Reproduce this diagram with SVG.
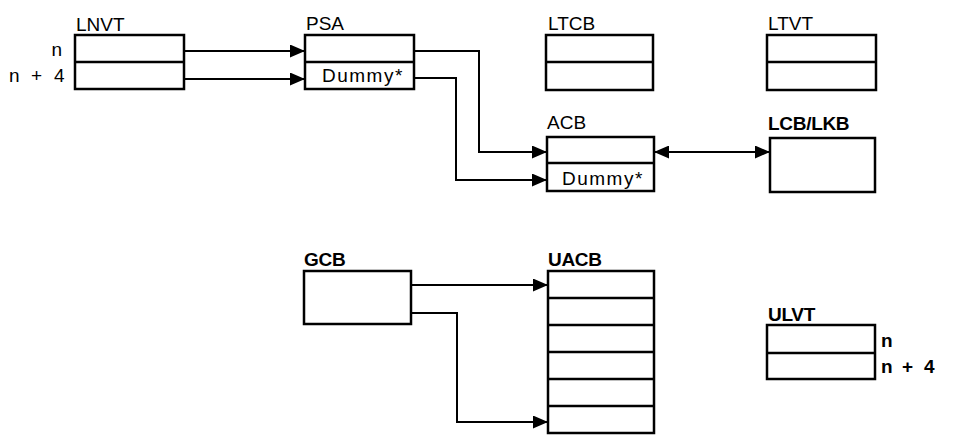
<svg xmlns="http://www.w3.org/2000/svg" width="956" height="444" viewBox="0 0 956 444">
<style>
.box{fill:#fff;stroke:#000;stroke-width:2.5}
.div{stroke:#000;stroke-width:2.5}
.t{font-family:"Liberation Sans",Arial,sans-serif;font-size:19px;fill:#000}
.d{font-family:"Liberation Sans",Arial,sans-serif;font-size:19px;fill:#000;letter-spacing:1.5px}
.b{font-family:"Liberation Sans",Arial,sans-serif;font-size:19px;font-weight:bold;fill:#000;letter-spacing:-0.3px}
.c{fill:none;stroke:#000;stroke-width:2}
</style>
<defs>
<marker id="ah" markerWidth="15" markerHeight="13" refX="15" refY="6.5" orient="auto" markerUnits="userSpaceOnUse">
<path d="M0,0 L15,6.5 L0,13 Z" fill="#000"/>
</marker>
<marker id="as" markerWidth="15" markerHeight="13" refX="15" refY="6.5" orient="auto-start-reverse" markerUnits="userSpaceOnUse">
<path d="M0,0 L15,6.5 L0,13 Z" fill="#000"/>
</marker>
</defs>
<g id="LNVT">
<text class="t" x="76" y="31">LNVT</text>
<rect class="box" x="75" y="35" width="109" height="54"/>
<line class="div" x1="75" y1="62" x2="184" y2="62"/>
<text class="t" x="62" y="56" text-anchor="end">n</text>
<text class="t" y="82"><tspan x="9">n</tspan><tspan x="31">+</tspan><tspan x="54">4</tspan></text>
</g>
<g id="PSA">
<text class="t" x="306" y="30">PSA</text>
<rect class="box" x="305" y="35" width="109" height="54"/>
<line class="div" x1="305" y1="62" x2="414" y2="62"/>
<text class="d" x="322" y="82">Dummy*</text>
</g>
<g id="LTCB">
<text class="t" x="548" y="30">LTCB</text>
<rect class="box" x="546" y="35" width="107" height="55"/>
<line class="div" x1="546" y1="62" x2="653" y2="62"/>
</g>
<g id="LTVT">
<text class="t" x="768" y="30">LTVT</text>
<rect class="box" x="767" y="35" width="109" height="55"/>
<line class="div" x1="767" y1="62" x2="876" y2="62"/>
</g>
<g id="ACB">
<text class="t" x="547" y="129">ACB</text>
<rect class="box" x="547" y="137" width="107" height="54"/>
<line class="div" x1="547" y1="163" x2="654" y2="163"/>
<text class="d" x="562" y="185">Dummy*</text>
</g>
<g id="LCB_LKB">
<text class="b" x="768" y="130">LCB/LKB</text>
<rect class="box" x="770" y="138" width="105" height="54"/>
</g>
<g id="GCB">
<text class="b" x="304" y="266">GCB</text>
<rect class="box" x="304" y="271" width="107" height="53"/>
</g>
<g id="UACB">
<text class="b" x="548" y="266">UACB</text>
<rect class="box" x="548" y="271" width="106" height="162"/>
<line class="div" x1="548" y1="298" x2="654" y2="298"/>
<line class="div" x1="548" y1="325" x2="654" y2="325"/>
<line class="div" x1="548" y1="352" x2="654" y2="352"/>
<line class="div" x1="548" y1="379" x2="654" y2="379"/>
<line class="div" x1="548" y1="406" x2="654" y2="406"/>
</g>
<g id="ULVT">
<text class="b" x="768" y="321">ULVT</text>
<rect class="box" x="767" y="325" width="108" height="54"/>
<line class="div" x1="767" y1="353" x2="875" y2="353"/>
<text class="b" x="881" y="347">n</text>
<text class="b" y="373"><tspan x="881">n</tspan><tspan x="902">+</tspan><tspan x="924">4</tspan></text>
</g>
<g id="connectors">
<path class="c" d="M184,51 H305" marker-end="url(#ah)"/>
<path class="c" d="M184,79 H305" marker-end="url(#ah)"/>
<path class="c" d="M414,51 H479 V152 H547" marker-end="url(#ah)"/>
<path class="c" d="M414,78 H456 V180 H547" marker-end="url(#ah)"/>
<path class="c" d="M654,152 H770" marker-start="url(#as)" marker-end="url(#ah)"/>
<path class="c" d="M411,285 H548" marker-end="url(#ah)"/>
<path class="c" d="M411,313 H457 V422 H548" marker-end="url(#ah)"/>
</g>
</svg>
